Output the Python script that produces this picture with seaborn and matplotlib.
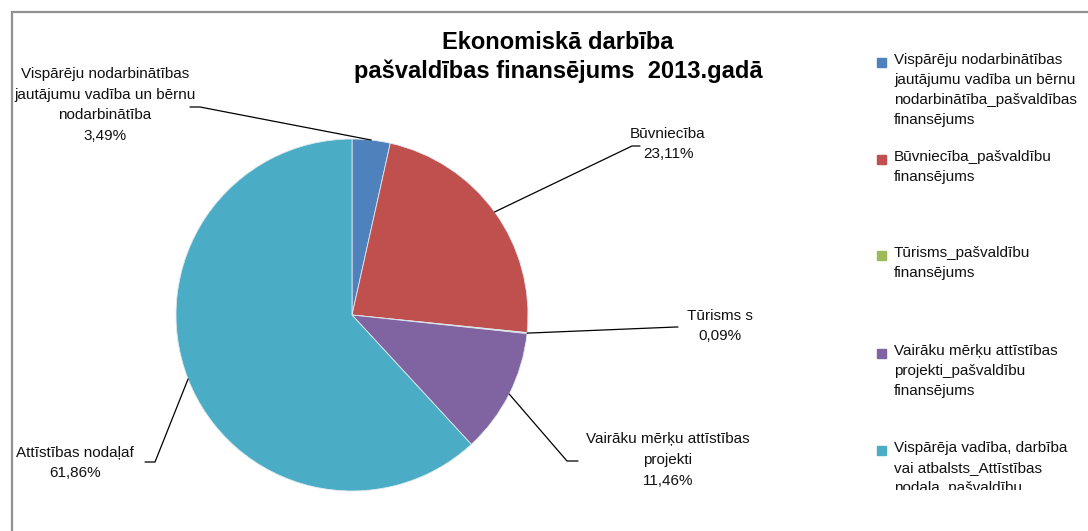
import numpy as np
import matplotlib
matplotlib.use("Agg")
import matplotlib.pyplot as plt
import seaborn as sns
from matplotlib.patches import Rectangle
from matplotlib.transforms import Bbox, TransformedBbox

# data
categories = [
    "Vispārēju nodarbinātības\njautājumu vadība un bērnu\nnodarbinātība",
    "Būvniecība",
    "Tūrisms s",
    "Vairāku mērķu attīstības\nprojekti",
    "Attīstības nodaļaf",
]
shares = [3.49, 23.11, 0.09, 11.46, 61.86]
legend_labels = [
    "Vispārēju nodarbinātības\njautājumu vadība un bērnu\nnodarbinātība_pašvaldības\nfinansējums",
    "Būvniecība_pašvaldību\nfinansējums",
    "Tūrisms_pašvaldību\nfinansējums",
    "Vairāku mērķu attīstības\nprojekti_pašvaldību\nfinansējums",
    "Vispārēja vadība, darbība\nvai atbalsts_Attīstības\nnodaļa_pašvaldību\nfinansējums",
]
colors = ["#4F81BD", "#C0504D", "#9BBB59", "#8064A2", "#4BACC6"]
title = "Ekonomiskā darbība\npašvaldības finansējums  2013.gadā"

sns.set_style("white")
plt.rcParams['font.family'] = ['Liberation Sans', 'DejaVu Sans']

W, H = 1088, 531
fig = plt.figure(figsize=(W / 100, H / 100), dpi=100)
ax = fig.add_axes([0, 0, 1, 1])

cx, cy, r = 352, H - 315, 176
wedges, _ = ax.pie(shares, colors=colors, startangle=90, counterclock=False,
                   center=(cx, cy), radius=r,
                   wedgeprops=dict(linewidth=0.6, edgecolor="#dfe8ee"))
ax.set_xlim(0, W)
ax.set_ylim(0, H)
ax.set_aspect("equal")
ax.axis("off")

# label layout: (elbow x, elbow y, end x, text x, text y) in image pixels
layout = [
    (200, 107, 190, 105, 105),
    (632, 146, 640, 668, 144),
    (676, 327, 678, 720, 326),
    (567, 461, 578, 668, 460),
    (155, 462, 145, 75, 463),
]
for w, cat, pct, (ex, ey, endx, tx, ty) in zip(wedges, categories, shares, layout):
    mid = np.deg2rad((w.theta1 + w.theta2) / 2)
    ax_, ay_ = cx + r * np.cos(mid), cy + r * np.sin(mid)
    ax.plot([ax_, ex, endx], [ay_, H - ey, H - ey], color="black", lw=0.9)
    label = f"{cat}\n{pct:.2f}%".replace(".", ",")
    ax.text(tx, H - ty, label, ha="center", va="center", fontsize=11,
            linespacing=1.62, color="#111111")

ax.text(558, H - 57, title, ha="center", va="center", fontsize=17,
        fontweight="bold", linespacing=1.3, color="black")

# legend drawn manually, clipped at bottom like the original
clip = TransformedBbox(Bbox.from_extents(850, H - 490, W, H), ax.transData)
tops = [62, 159, 255, 353, 450]
for c, lab, t in zip(colors, legend_labels, tops):
    ax.add_patch(Rectangle((877, H - t - 5), 9, 9, color=c))
    txt = ax.text(894, H - t + 9, lab, ha="left", va="top", fontsize=11,
                  linespacing=1.55, color="#111111")
    txt.set_clip_box(clip)
    txt.set_clip_on(True)

# outer frame
ax.plot([12, 12, W], [0, H - 12, H - 12], color="#909090", lw=1.6,
        solid_joinstyle="miter")

fig.savefig("out.png", dpi=100)
